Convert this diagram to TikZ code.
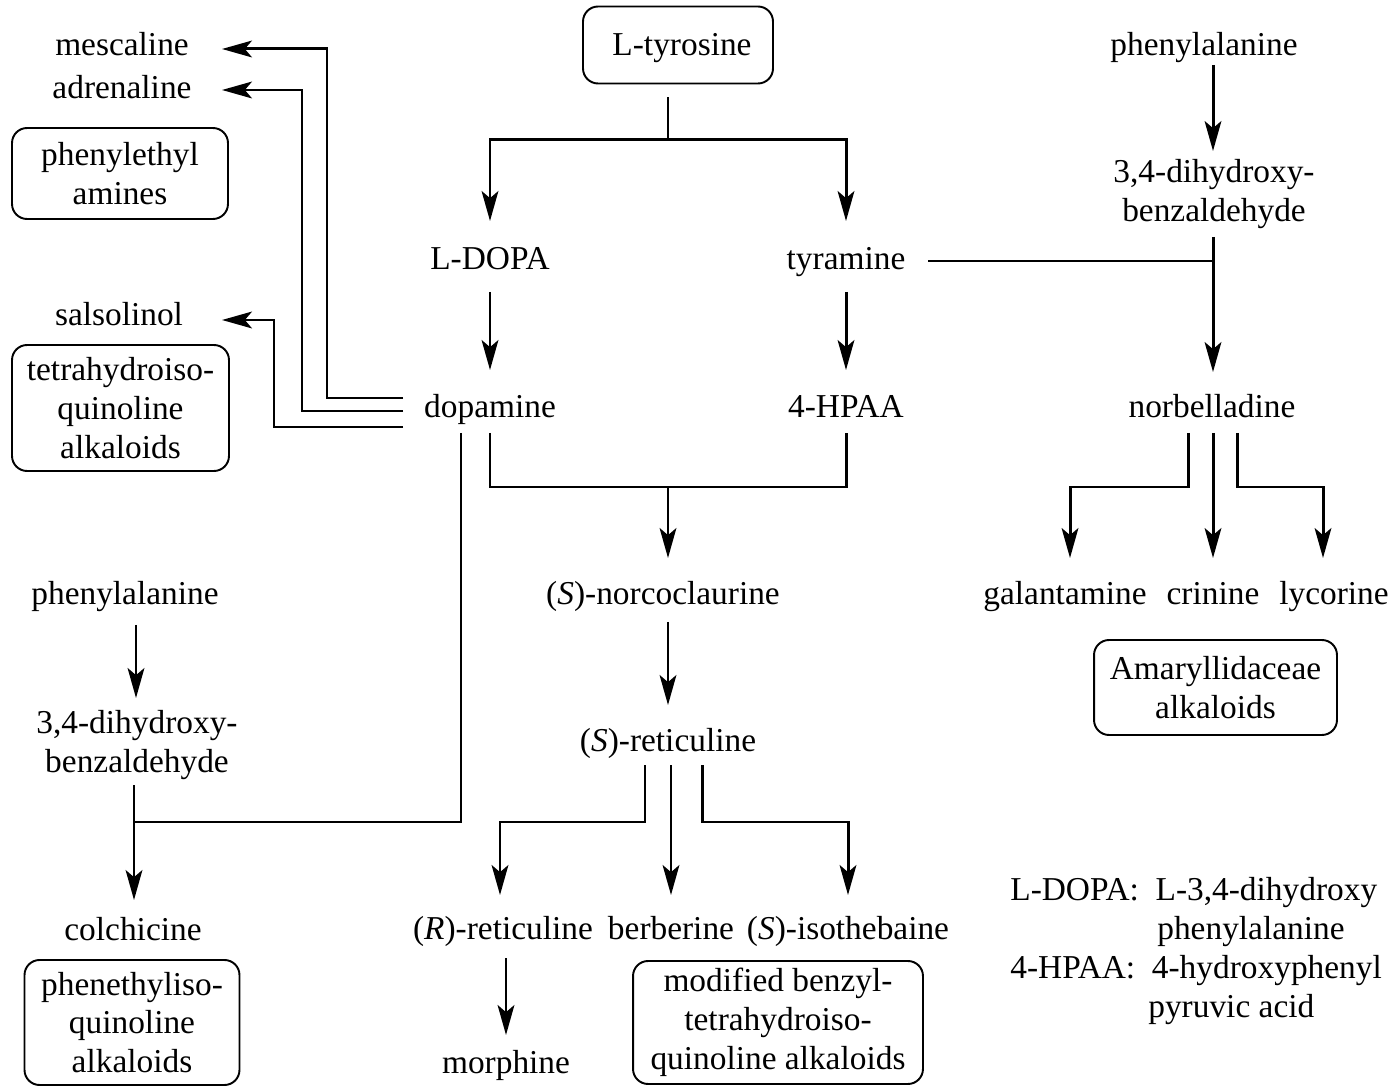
\documentclass[tikz,border=0pt]{standalone}
\usepackage{fontspec}
\setmainfont{Liberation Serif}
\usetikzlibrary{arrows.meta,calc}
\begin{document}
\begin{tikzpicture}[x=0.02cm,y=-0.02cm,
 every node/.style={font=\fontsize{19pt}{22.1pt}\selectfont, inner sep=0pt},
 txt/.style={text height=13.5pt, text depth=1pt},
 two/.style={align=center},
 boxline/.style={draw, line width=1.1pt, rounded corners=0.3cm},
 box/.style={boxline, align=center},
 ln/.style={line width=1.7pt},
 arr/.style={ln, -{Stealth[length=17pt,width=9.5pt,inset=4pt]}}]
\useasboundingbox (0,0) rectangle (1397,1087);

% nodes
\node[txt] (mesc) at (122,45) {mescaline};
\node[txt] (adren) at (122,88) {adrenaline};
\node[box, minimum width=4.32cm, minimum height=1.82cm] (pea) at (120,173.5) {phenylethyl\\amines};
\node[txt] (sals) at (119,315) {salsolinol};
\node[box, minimum width=4.34cm, minimum height=2.52cm] (thiq) at (120.5,408) {tetrahydroiso-\\quinoline\\alkaloids};
\node[boxline, txt, minimum width=3.80cm, minimum height=1.54cm] (ltyr) at (678,45) {\hspace*{0.16cm}L-tyrosine};
\node[txt] (phe1) at (1204,45) {phenylalanine};
\node[two] (dhb1) at (1214,194) {3,4-dihydroxy-\\benzaldehyde};
\node[txt] (ldopa) at (490,259) {L-DOPA};
\node[txt] (tyr) at (846,259) {tyramine};
\node[txt] (dopa) at (490,407) {dopamine};
\node[txt] (hpaa) at (846,407) {4-HPAA};
\node[txt] (norb) at (1212,407) {norbelladine};
\node[txt] (nco) at (663,594) {(\textit{S})-norcoclaurine};
\node[txt] (gal) at (1065,594) {galantamine};
\node[txt] (crin) at (1213,594) {crinine};
\node[txt] (lyc) at (1334,594) {lycorine};
\node[box, minimum width=4.86cm, minimum height=1.90cm] (amar) at (1215.5,687.5) {Amaryllidaceae\\alkaloids};
\node[txt] (phe2) at (125,594) {phenylalanine};
\node[two] (dhb2) at (137,745) {3,4-dihydroxy-\\benzaldehyde};
\node[txt] (ret) at (668,741) {(\textit{S})-reticuline};
\node[txt] (colch) at (133,930) {colchicine};
\node[box, minimum width=4.30cm, minimum height=2.50cm] (phiq) at (132,1022.5) {phenethyliso-\\quinoline\\alkaloids};
\node[txt] (rret) at (503,929) {(\textit{R})-reticuline};
\node[txt] (berb) at (671,929) {berberine};
\node[txt] (isot) at (848,929) {(\textit{S})-isothebaine};
\node[txt] (morph) at (506,1063) {morphine};
\node[box, minimum width=5.80cm, minimum height=2.46cm] (mod) at (778,1022.5) {modified benzyl-\\tetrahydroiso-\\quinoline alkaloids};
\node[txt, anchor=west] (lg1) at (1010,890) {L-DOPA:\hspace{0.25em} L-3,4-dihydroxy};
\node[txt, anchor=west] (lg2) at (1157,929) {phenylalanine};
\node[txt, anchor=west] (lg3) at (1010,968) {4-HPAA:\hspace{0.25em} 4-hydroxyphenyl};
\node[txt, anchor=west] (lg4) at (1148,1007) {pyruvic acid};

% connectors
\draw[ln] ($(ltyr.south)+(-10,13)$) -- ($(ltyr.south)+(-10,55.5)$) coordinate (t1);
\draw[arr] (t1) -| ($(ldopa)+(0,-38)$);
\draw[arr] (t1) -| ($(tyr)+(0,-38)$);
\draw[arr] ($(ldopa)+(0,33)$) -- ($(dopa)+(0,-37)$);
\draw[arr] ($(tyr)+(0,33)$) -- ($(hpaa)+(0,-37)$);
\draw[ln] ($(dopa)+(0,26)$) |- ($(hpaa)+(0,80)$) -- ($(hpaa)+(0,26)$);
\draw[arr] ($(dopa)!0.5!(hpaa)+(0,80)$) -- ($(nco -| ret)+(0,-36)$);
\draw[arr] ($(nco -| ret)+(0,28)$) -- ($(ret)+(0,-36)$);
\draw[arr] ($(ret)+(-23,24)$) |- ($(rret)+(-3,-107)$) -- ($(rret)+(-3,-34)$);
\draw[arr] ($(ret)+(3,24)$) -- ($(berb)+(0,-34)$);
\draw[arr] ($(ret)+(34,24)$) |- ($(isot)+(0,-107)$) -- ($(isot)+(0,-34)$);
\draw[arr] ($(rret)+(3,29)$) -- ($(morph)+(0,-28)$);

\draw[arr] ($(phe1 -| dhb1)+(-1,20)$) -- ($(dhb1)+(-1,-43)$);
\draw[arr] ($(dhb1)+(-1,43)$) -- ($(dhb1 |- norb)+(-1,-35)$);
\draw[ln] ($(tyr)+(82,2)$) -- ($(tyr -| dhb1)+(-1,2)$);
\draw[arr] ($(norb)+(-24,26)$) |- ($(gal)+(5,-107)$) -- ($(gal)+(5,-36)$);
\draw[arr] ($(norb)+(1,26)$) -- ($(crin)+(0,-36)$);
\draw[arr] ($(norb)+(25,26)$) |- ($(lyc)+(-11,-107)$) -- ($(lyc)+(-11,-36)$);

\draw[arr] ($(dopa)+(-87,-9)$) -| ($(mesc)+(205,4)$) -- ($(mesc)+(100,4)$);
\draw[arr] ($(dopa)+(-87,4)$) -| ($(adren)+(180,2)$) -- ($(adren)+(100,2)$);
\draw[arr] ($(dopa)+(-87,20)$) -| ($(sals)+(155,5)$) -- ($(sals)+(103,5)$);

\draw[ln] ($(dopa)+(-29,26)$) |- ($(colch)+(1,-108)$);
\draw[arr] ($(phe2)+(11,31)$) -- ($(phe2 -| dhb2)+(-1,104)$);
\draw[arr] ($(dhb2)+(-3,40)$) -- ($(colch)+(1,-30)$);
\end{tikzpicture}
\end{document}
